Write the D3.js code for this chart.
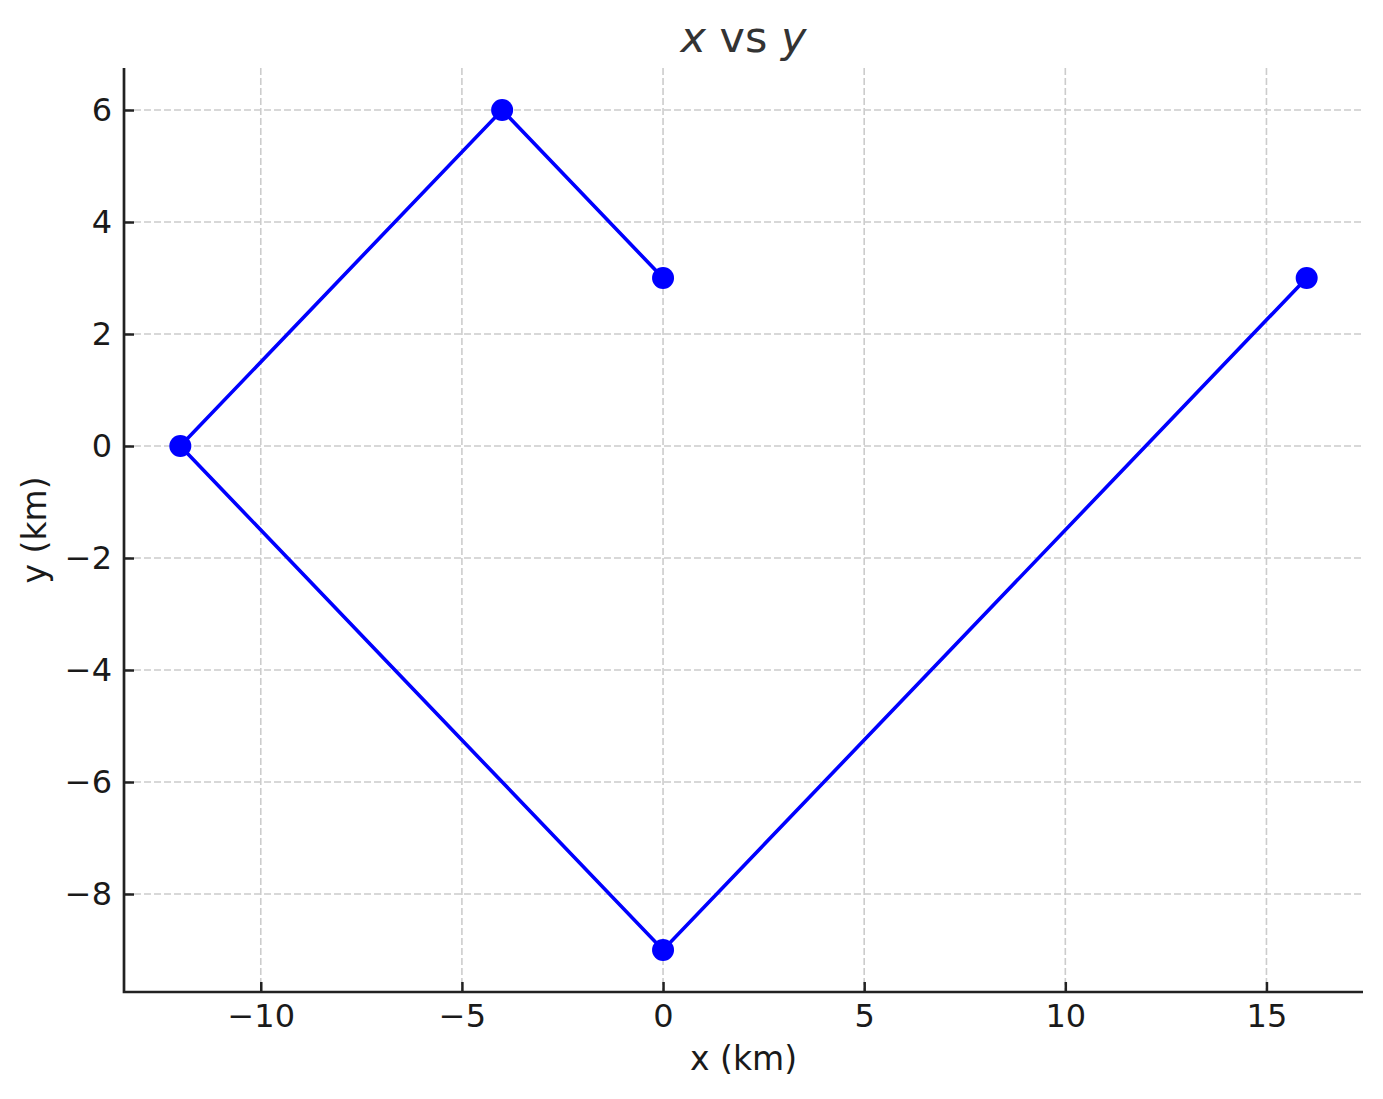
<!DOCTYPE html>
<html>
<head>
  <meta charset="utf-8">
  <title>x vs y</title>
  <style>
    body { margin: 0; background: #fff; }
    text { font-family: "DejaVu Sans", sans-serif; }
  </style>
</head>
<body>
  <script src="https://d3js.org/d3.v7.min.js"></script>
  <script>

  // path of the points, in drawing order
  var xs = [0, -4, -12, 0, 16],
      ys = [3, 6, 0, -9, 3],
      xTicks = [-10, -5, 0, 5, 10, 15],
      yTicks = [-8, -6, -4, -2, 0, 2, 4, 6];

  var W = 1383, H = 1099,
      mLeft = 124, mRight = 1363, mTop = 68, mBottom = 992;

  var pts = xs.map(function(x, i) { return {x: x, y: ys[i]}; });

  // matplotlib style 5% margins
  var xr = d3.extent(xs), yr = d3.extent(ys),
      xm = (xr[1] - xr[0]) * 0.05, ym = (yr[1] - yr[0]) * 0.05;

  var x = d3.scaleLinear().domain([xr[0] - xm, xr[1] + xm]).range([mLeft, mRight]),
      y = d3.scaleLinear().domain([yr[0] - ym, yr[1] + ym]).range([mBottom, mTop]);

  var svg = d3.select('body').append('svg')
      .attr('width', W)
      .attr('height', H);

  var minus = function(d) { return String(d).replace('-', '\u2212'); };

  // grid
  svg.append('g').selectAll('line')
     .data(xTicks).enter().append('line')
     .attr('x1', x).attr('x2', x)
     .attr('y1', mTop).attr('y2', mBottom)
     .attr('stroke', '#cccccc').attr('stroke-width', 1.6)
     .attr('stroke-dasharray', '7,3');

  svg.append('g').selectAll('line')
     .data(yTicks).enter().append('line')
     .attr('y1', y).attr('y2', y)
     .attr('x1', mLeft).attr('x2', mRight)
     .attr('stroke', '#cccccc').attr('stroke-width', 1.6)
     .attr('stroke-dasharray', '7,3');

  // axes, ticks point inward
  var xAxis = svg.append('g')
      .attr('transform', 'translate(0,' + mBottom + ')')
      .call(d3.axisBottom(x).tickValues(xTicks).tickSize(-10).tickPadding(10).tickFormat(minus));

  var yAxis = svg.append('g')
      .attr('transform', 'translate(' + mLeft + ',0)')
      .call(d3.axisLeft(y).tickValues(yTicks).tickSize(-10).tickPadding(12).tickFormat(minus));

  [xAxis, yAxis].forEach(function(a) {
    a.select('.domain').remove();
    a.selectAll('.tick line').attr('stroke', '#222').attr('stroke-width', 2.5);
    a.selectAll('.tick text')
     .attr('fill', '#1a1a1a')
     .style('font-size', '32px')
     .style('font-family', '"DejaVu Sans", sans-serif');
  });
  xAxis.selectAll('.tick text').attr('y', 12).attr('dy', '0.72em');

  // left and bottom spines
  svg.append('path')
     .attr('d', 'M' + mLeft + ',' + mTop + 'V' + mBottom + 'H' + mRight)
     .attr('fill', 'none')
     .attr('stroke', '#222')
     .attr('stroke-width', 2.7);

  // line + markers
  svg.append('path')
     .datum(pts)
     .attr('d', d3.line().x(function(d) { return x(d.x); }).y(function(d) { return y(d.y); }))
     .attr('fill', 'none')
     .attr('stroke', '#0000ff')
     .attr('stroke-width', 3.6);

  svg.selectAll('circle')
     .data(pts).enter().append('circle')
     .attr('cx', function(d) { return x(d.x); })
     .attr('cy', function(d) { return y(d.y); })
     .attr('r', 11)
     .attr('fill', '#0000ff');

  // labels
  var title = svg.append('text')
     .attr('x', (mLeft + mRight) / 2).attr('y', 52)
     .attr('text-anchor', 'middle')
     .attr('fill', '#333')
     .style('font-size', '43px');
  title.append('tspan').style('font-style', 'italic').text('x');
  title.append('tspan').text(' vs ');
  title.append('tspan').style('font-style', 'italic').text('y');

  svg.append('text')
     .attr('x', (mLeft + mRight) / 2).attr('y', 1070)
     .attr('text-anchor', 'middle')
     .attr('fill', '#1a1a1a')
     .style('font-size', '33px')
     .text('x (km)');

  svg.append('text')
     .attr('transform', 'translate(46,' + (mTop + mBottom) / 2 + ') rotate(-90)')
     .attr('text-anchor', 'middle')
     .attr('fill', '#1a1a1a')
     .style('font-size', '33px')
     .text('y (km)');

  </script>
</body>
</html>
